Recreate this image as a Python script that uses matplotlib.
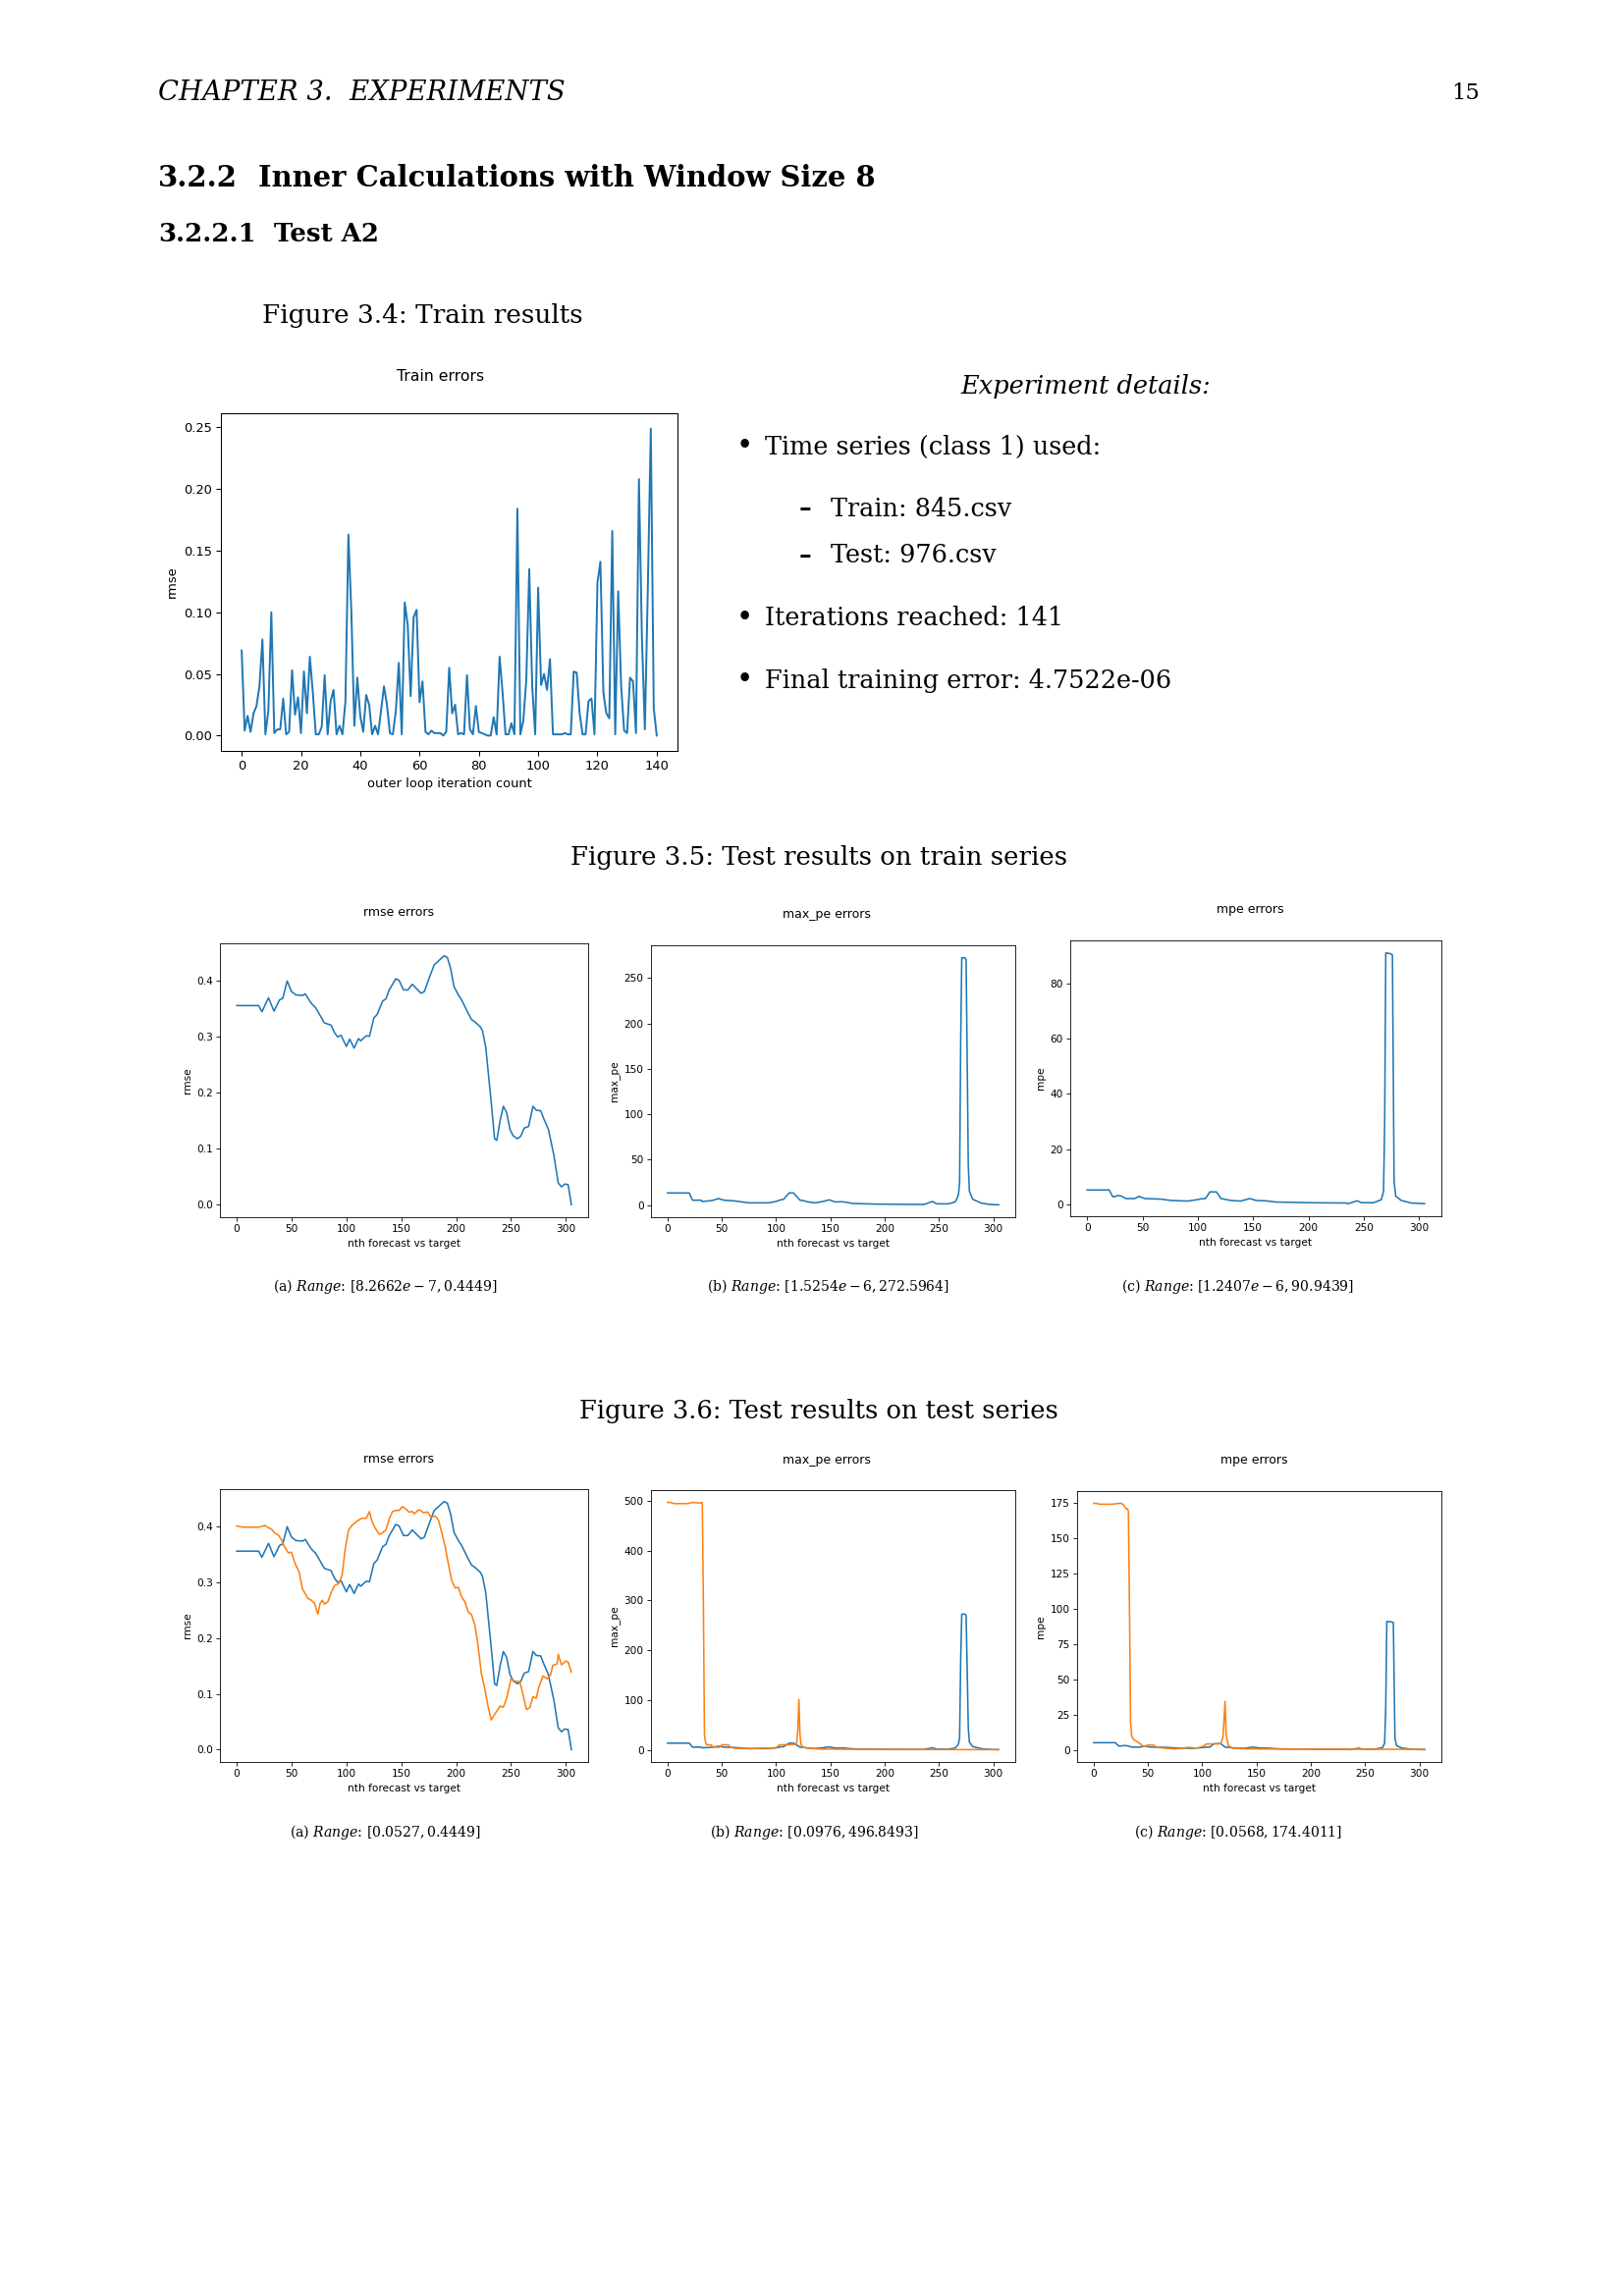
import numpy as np
import matplotlib
matplotlib.use('Agg')
import matplotlib.pyplot as plt

plt.rcParams['font.family'] = 'DejaVu Sans'
plt.rcParams['mathtext.fontset'] = 'dejavuserif'

# ---- data ----
# Figure 3.4: train error per outer loop iteration (0..140)
train_err = [0.069, 0.004, 0.016, 0.003, 0.018, 0.024, 0.040, 0.078, 0.001, 0.020,
             0.100, 0.002, 0.005, 0.005, 0.030, 0.001, 0.003, 0.053, 0.017, 0.031,
             0.002, 0.052, 0.018, 0.064, 0.035, 0.001, 0.001, 0.007, 0.049, 0.001,
             0.028, 0.037, 0.001, 0.008, 0.001, 0.028, 0.163, 0.100, 0.008, 0.047,
             0.016, 0.003, 0.033, 0.025, 0.001, 0.008, 0.001, 0.020, 0.040, 0.025,
             0.002, 0.001, 0.020, 0.059, 0.001, 0.108, 0.090, 0.032, 0.096, 0.102,
             0.027, 0.044, 0.003, 0.001, 0.004, 0.002, 0.002, 0.002, 0.000, 0.003,
             0.055, 0.018, 0.025, 0.001, 0.002, 0.001, 0.049, 0.005, 0.001, 0.024,
             0.003, 0.002, 0.001, 0.000, 0.000, 0.015, 0.001, 0.064, 0.035, 0.001,
             0.001, 0.010, 0.001, 0.184, 0.001, 0.012, 0.045, 0.135, 0.040, 0.001,
             0.120, 0.041, 0.050, 0.037, 0.062, 0.001, 0.001, 0.001, 0.001, 0.002,
             0.001, 0.001, 0.052, 0.051, 0.018, 0.001, 0.001, 0.028, 0.030, 0.001,
             0.124, 0.141, 0.035, 0.018, 0.014, 0.166, 0.001, 0.117, 0.040, 0.004,
             0.002, 0.047, 0.044, 0.002, 0.208, 0.080, 0.005, 0.120, 0.249, 0.022,
             0.000]

# rmse on train series (blue, also drawn on the test figure)
rmse_x = [0, 20, 23, 29, 34, 39, 42, 46, 50, 54, 60, 62.5, 68, 72, 80, 86, 89, 92, 95, 100,
          103, 107, 111, 113, 118, 121, 125, 128, 133, 136, 139, 145, 148, 152, 156, 160, 163, 168, 171, 175,
          180, 184, 189, 192, 195, 198, 202, 205, 210, 214, 217, 222, 224, 227, 229, 232, 235, 237, 240, 243,
          246, 249, 252, 256, 259, 262, 266, 270, 273, 277, 280, 284, 289, 293, 296, 299, 302, 305]
rmse_train = [0.356, 0.356, 0.345, 0.370, 0.346, 0.366, 0.369, 0.400, 0.381, 0.375,
              0.374, 0.377, 0.360, 0.352, 0.325, 0.321, 0.308, 0.300, 0.303, 0.283,
              0.296, 0.280, 0.297, 0.293, 0.302, 0.301, 0.334, 0.340, 0.364, 0.368,
              0.384, 0.404, 0.401, 0.384, 0.384, 0.394, 0.388, 0.378, 0.381, 0.403,
              0.429, 0.436, 0.445, 0.442, 0.422, 0.390, 0.375, 0.366, 0.346, 0.331,
              0.327, 0.318, 0.311, 0.281, 0.241, 0.182, 0.118, 0.115, 0.150, 0.176,
              0.165, 0.135, 0.123, 0.118, 0.123, 0.137, 0.140, 0.176, 0.169, 0.168,
              0.153, 0.135, 0.089, 0.039, 0.032, 0.037, 0.036, 0.0]

# rmse on test series (orange)
rmse_test_x = [0, 6, 20, 26, 29, 32, 35, 38, 41, 43, 47, 50, 53, 57, 60, 65, 68, 71, 74, 76,
               78, 80, 83, 86, 89, 93, 96, 99, 102, 105, 109, 114, 118, 121, 123, 126, 130, 133, 136, 139,
               142, 145, 148, 151, 154, 157, 160, 162, 165, 167, 170, 174, 177, 181, 184, 187, 190, 193, 196, 199,
               202, 205, 208, 211, 214, 217, 220, 223, 226, 229, 232, 235, 240, 243, 246, 250, 253, 258, 261, 264,
               267, 270, 273, 275, 279, 283, 286, 288, 292, 293, 296, 300, 302, 305]
rmse_test = [0.401, 0.399, 0.399, 0.402, 0.398, 0.395, 0.388, 0.385, 0.376, 0.366,
             0.353, 0.354, 0.335, 0.318, 0.288, 0.271, 0.268, 0.262, 0.243, 0.262,
             0.268, 0.261, 0.265, 0.281, 0.294, 0.298, 0.312, 0.361, 0.394, 0.402,
             0.409, 0.415, 0.415, 0.427, 0.411, 0.398, 0.386, 0.389, 0.394, 0.414,
             0.427, 0.429, 0.429, 0.436, 0.432, 0.426, 0.427, 0.423, 0.429, 0.430,
             0.425, 0.426, 0.417, 0.419, 0.411, 0.388, 0.364, 0.332, 0.303, 0.290,
             0.291, 0.274, 0.265, 0.247, 0.242, 0.224, 0.186, 0.136, 0.110, 0.078,
             0.053, 0.063, 0.078, 0.076, 0.092, 0.127, 0.123, 0.122, 0.098, 0.072,
             0.075, 0.095, 0.092, 0.110, 0.132, 0.127, 0.134, 0.151, 0.154, 0.171,
             0.152, 0.159, 0.157, 0.139]

# max_pe on train series
maxpe_x = [0, 20, 23, 31, 32, 41, 47, 52, 61, 75, 93, 100, 103, 107, 112, 116, 118, 122, 125, 129,
           136, 143, 149, 154, 162, 171, 192, 236, 244, 248, 259, 265, 267, 268, 269, 270, 271, 274, 275, 276,
           277, 278, 281, 289, 297, 305]
maxpe_train = [13.4, 13.4, 5.4, 5.4, 4.0, 5.0, 7.2, 5.4, 4.7, 2.5,
               2.5, 4.0, 5.4, 6.5, 13.4, 13.4, 10.8, 5.4, 5.0, 3.6,
               2.5, 4.0, 5.8, 3.6, 3.6, 1.8, 1.1, 0.7, 4.0, 1.4,
               1.4, 3.6, 8.3, 12, 25, 180, 272.6, 272.3, 270, 160,
               44, 15.5, 6.5, 2.2, 0.7, 0.3]

# max_pe on test series
maxpe_test_x = [0, 3, 6, 19, 22, 27, 29, 31, 32, 33, 34, 35, 36, 40, 42, 44, 48, 50, 56, 58,
                62, 75, 88, 95, 100, 103, 110, 118, 119, 120, 121, 122, 123, 125, 129, 140, 200, 305]
maxpe_test = [496.8, 496.8, 494.5, 494.5, 496.5, 496.5, 495, 496.5, 496.5, 300,
              30, 15, 10, 10, 6, 5, 5, 10, 10, 5,
              3, 2, 3.5, 3, 4, 10, 10, 11, 15, 40,
              101, 30, 10, 5, 3, 1.5, 0.5, 0.3]

# mpe on train series
mpe_x = [0, 20, 23, 24, 28, 31, 35, 43, 47, 52, 67, 76, 91, 98, 103, 107, 111, 117, 121, 125,
         130, 139, 147, 153, 161, 171, 201, 234, 236, 244, 248, 259, 266, 268, 269, 270, 274, 276, 277.5, 279,
         284, 293, 305]
mpe_train = [5.3, 5.3, 3.0, 2.8, 3.3, 3.1, 2.2, 2.2, 3.0, 2.2,
             2.0, 1.5, 1.3, 1.7, 2.1, 2.2, 4.6, 4.6, 2.2, 1.9,
             1.5, 1.3, 2.2, 1.5, 1.4, 0.95, 0.7, 0.6, 0.35, 1.4,
             0.7, 0.7, 1.8, 4.9, 30, 90.94, 90.7, 90.2, 8.4, 3.1,
             1.5, 0.6, 0.35]

# mpe on test series
mpe_test_x = [0, 3, 5, 17, 23, 26, 28, 30, 31, 32, 33, 34, 35, 37, 40, 43, 46, 50, 55, 58,
              65, 75, 88, 95, 101, 104, 110, 117, 119, 120, 121, 122, 124, 128, 140, 200, 305]
mpe_test = [174.4, 174.4, 173.8, 173.8, 174.4, 174.4, 172.7, 170.6, 170.6, 169,
            100, 20, 10, 7.2, 6.2, 4.4, 2.5, 3.7, 3.7, 2.1,
            1.4, 0.9, 2.0, 1.4, 2.8, 4.4, 4.4, 4.6, 9, 20,
            34.5, 11, 3.2, 1.4, 0.9, 0.7, 0.6]

captions_train = [r"(a) $Range$: $[8.2662e-7, 0.4449]$",
                  r"(b) $Range$: $[1.5254e-6, 272.5964]$",
                  r"(c) $Range$: $[1.2407e-6, 90.9439]$"]
captions_test = [r"(a) $Range$: $[0.0527, 0.4449]$",
                 r"(b) $Range$: $[0.0976, 496.8493]$",
                 r"(c) $Range$: $[0.0568, 174.4011]$"]

BLUE = '#1f77b4'
ORANGE = '#ff7f0e'
SERIF = 'DejaVu Serif'

W, H = 1654, 2339
fig = plt.figure(figsize=(W / 200, H / 200), dpi=200)
fig.patch.set_facecolor('white')
renderer = fig.canvas.get_renderer()


def put(x, y, s, width=None, size=10, ha='left', **kw):
    "place text at page pixel coords, optionally fitted to a pixel width"
    t = fig.text(x / W, 1 - y / H, s, fontsize=size, ha=ha, va='center', **kw)
    if width:
        w = t.get_window_extent(renderer).width
        t.set_fontsize(size * width / w)
    return t


def chart(box, scale, xlabel, ylabel):
    l, t, r, b = box
    ax = fig.add_axes([l / W, 1 - b / H, (r - l) / W, (b - t) / H])
    ax.tick_params(labelsize=10 * scale, length=3.5 * scale, width=0.8 * scale, pad=3.5 * scale)
    for sp in ax.spines.values():
        sp.set_linewidth(0.8 * scale)
    ax.set_xlabel(xlabel, fontsize=10 * scale, labelpad=4 * scale)
    ax.set_ylabel(ylabel, fontsize=10 * scale, labelpad=4 * scale)
    return ax


# ---- page text ----
put(161, 95, "CHAPTER 3.  EXPERIMENTS", width=414, family=SERIF, style='italic')
put(1507, 95, "15", width=29, ha='right', family=SERIF)
h1 = put(263, 182, "Inner Calculations with Window Size 8", width=628, family=SERIF, weight='bold')
put(161, 182, "3.2.2", size=h1.get_fontsize(), family=SERIF, weight='bold')
h2 = put(279, 238, "Test A2", width=107, family=SERIF, weight='bold')
put(161, 238, "3.2.2.1", size=h2.get_fontsize(), family=SERIF, weight='bold')
put(267, 322, "Figure 3.4: Train results", width=326, family=SERIF)

put(978, 393, "Experiment details:", width=255, family=SERIF, style='italic')
body = put(779, 455, "Time series (class 1) used:", width=343, family=SERIF)
bsize = body.get_fontsize()
put(750, 455, "•", size=bsize * 1.15, family=SERIF)
put(814, 518, "–", size=bsize, family=SERIF, weight='bold')
put(846, 518, "Train: 845.csv", size=bsize, family=SERIF)
put(814, 566, "–", size=bsize, family=SERIF, weight='bold')
put(846, 566, "Test: 976.csv", size=bsize, family=SERIF)
put(750, 630, "•", size=bsize * 1.15, family=SERIF)
put(779, 630, "Iterations reached: 141", size=bsize, family=SERIF)
put(750, 693, "•", size=bsize * 1.15, family=SERIF)
put(779, 693, "Final training error: 4.7522e-06", size=bsize, family=SERIF)

put(834, 874, "Figure 3.5: Test results on train series", width=504, ha='center', family=SERIF)
put(834, 1438, "Figure 3.6: Test results on test series", width=487, ha='center', family=SERIF)

# ---- Figure 3.4 ----
s1 = 0.469
ax = chart((225, 421, 690, 765), s1, "outer loop iteration count", "rmse")
ax.plot(np.arange(len(train_err)), train_err, color=BLUE, lw=1.5 * s1)
put(449, 383, "Train errors", size=12 * s1, ha='center')

# ---- Figures 3.5 / 3.6 ----
s2 = 0.377
boxes_train = [(224, 961, 599, 1240), (663, 963, 1034, 1240), (1090, 958, 1468, 1239)]
boxes_test = [(224, 1517, 599, 1795), (663, 1518, 1034, 1795), (1097, 1519, 1468, 1795)]
ylabels = ["rmse", "max_pe", "mpe"]
titles = ["rmse errors", "max_pe errors", "mpe errors"]
title_pos_train = [(406, 929), (842, 932), (1273, 927)]
title_pos_test = [(406, 1486), (842, 1487), (1277, 1488)]
cap_pos_train = [(392, 1311), (843, 1311), (1261, 1311)]
cap_pos_test = [(392, 1867), (829, 1867), (1261, 1867)]

blue_series = [(rmse_x, rmse_train), (maxpe_x, maxpe_train), (mpe_x, mpe_train)]
orange_series = [(rmse_test_x, rmse_test), (maxpe_test_x, maxpe_test), (mpe_test_x, mpe_test)]

capsize = None
for i in range(3):
    ax = chart(boxes_train[i], s2, "nth forecast vs target", ylabels[i])
    ax.plot(blue_series[i][0], blue_series[i][1], color=BLUE, lw=1.5 * s2)
    put(title_pos_train[i][0], title_pos_train[i][1], titles[i], size=12 * s2, ha='center')

    ax = chart(boxes_test[i], s2, "nth forecast vs target", ylabels[i])
    ax.plot(blue_series[i][0], blue_series[i][1], color=BLUE, lw=1.5 * s2)
    ax.plot(orange_series[i][0], orange_series[i][1], color=ORANGE, lw=1.5 * s2)
    put(title_pos_test[i][0], title_pos_test[i][1], titles[i], size=12 * s2, ha='center')

    if capsize is None:
        capsize = put(cap_pos_train[i][0], cap_pos_train[i][1], captions_train[i],
                      width=227, ha='center', family=SERIF).get_fontsize()
    else:
        put(cap_pos_train[i][0], cap_pos_train[i][1], captions_train[i], size=capsize,
            ha='center', family=SERIF)
    put(cap_pos_test[i][0], cap_pos_test[i][1], captions_test[i], size=capsize,
        ha='center', family=SERIF)

fig.savefig('out.png', dpi=200, facecolor='white')
